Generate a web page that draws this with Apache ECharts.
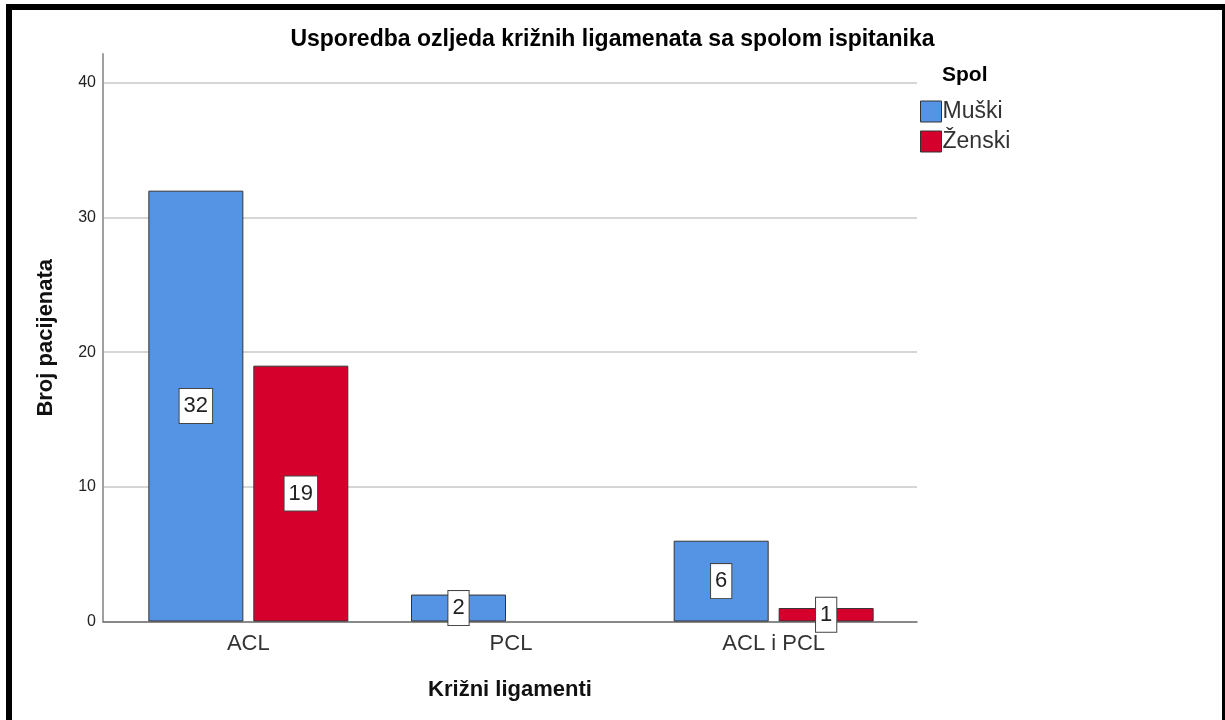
<!DOCTYPE html>
<html>
<head>
<meta charset="utf-8">
<script src="https://cdn.jsdelivr.net/npm/echarts@6/dist/echarts.min.js"></script>
<style>
html,body{margin:0;padding:0;background:#fff;}
#chart{width:1225px;height:720px;}
</style>
</head>
<body>
<div id="chart"></div>
<script>
const categories = ['ACL', 'PCL', 'ACL i PCL'];
const seriesNames = ['Muški', 'Ženski'];
const muski = [32, 2, 6];
const zenski = [19, 0, 1];
const yTicks = [0, 10, 20, 30, 40];

const FONT = "'Liberation Sans', Arial, sans-serif";
const chart = echarts.init(document.getElementById('chart'), null, {renderer: 'canvas'});

const yMax = 42.15;
const labelStyle = {
  show: true,
  position: 'inside',
  formatter: '{c}',
  color: '#222',
  fontFamily: FONT,
  fontSize: 22,
  lineHeight: 22,
  backgroundColor: '#fff',
  borderColor: '#444',
  borderWidth: 1,
  padding: [6, 4, 6, 4]
};

function mkData(arr) {
  return arr.map(v => (v !== 0
    ? { value: v }
    : { value: v, label: { show: false }, itemStyle: { borderWidth: 0 } }));
}

chart.setOption({
  animation: false,
  backgroundColor: '#fff',
  textStyle: { fontFamily: FONT },
  title: [
    {
      text: 'Usporedba ozljeda križnih ligamenata sa spolom ispitanika',
      left: 'center', top: 28, padding: 0,
      textStyle: { fontFamily: FONT, fontSize: 23, fontWeight: 'bold', color: '#000' }
    },
    {
      text: 'Spol',
      left: 942, top: 65, padding: 0,
      textStyle: { fontFamily: FONT, fontSize: 21, fontWeight: 'bold', color: '#000' }
    }
  ],
  legend: {
    orient: 'vertical',
    left: 920, top: 100, padding: 0,
    itemWidth: 21, itemHeight: 21, itemGap: 7,
    icon: 'rect',
    data: seriesNames,
    itemStyle: { borderColor: '#333', borderWidth: 1 },
    textStyle: { fontFamily: FONT, fontSize: 23, color: '#333', padding: [0, 0, 0, -4] }
  },
  grid: [
    { left: 103, right: 308, top: 54, bottom: 98.5 },
    { left: 117, right: 320, top: 54, bottom: 98.5 }
  ],
  xAxis: [
    {
      gridIndex: 0, type: 'category', data: categories,
      axisLine: { show: true, lineStyle: { color: '#707070', width: 1.5 } },
      axisTick: { show: false }, axisLabel: { show: false },
      name: 'Križni ligamenti', nameLocation: 'middle', nameGap: 57,
      nameTextStyle: { fontFamily: FONT, fontSize: 22, fontWeight: 'bold', color: '#111' }
    },
    {
      gridIndex: 1, type: 'category', data: categories,
      axisLine: { show: false }, axisTick: { show: false },
      axisLabel: { fontFamily: FONT, fontSize: 22, color: '#333', margin: 11 }
    }
  ],
  yAxis: [
    {
      gridIndex: 0, type: 'value', min: 0, max: yMax, interval: 10,
      axisLine: { show: true, lineStyle: { color: '#a0a0a0', width: 2 } },
      axisTick: { show: false },
      axisLabel: {
        fontFamily: FONT, fontSize: 16, color: '#222', margin: 7,
        formatter: v => (yTicks.indexOf(v) >= 0 ? String(v) : '')
      },
      splitLine: { show: true, showMaxLine: false, lineStyle: { color: '#c8c8c8', width: 1.5 } },
      name: 'Broj pacijenata', nameLocation: 'middle', nameGap: 46,
      nameTextStyle: { fontFamily: FONT, fontSize: 22, fontWeight: 'bold', color: '#111' }
    },
    {
      gridIndex: 1, type: 'value', min: 0, max: yMax, interval: 10, show: false,
      splitLine: { show: false }
    }
  ],
  series: [
    {
      name: seriesNames[0], type: 'bar', xAxisIndex: 1, yAxisIndex: 1,
      data: mkData(muski), barWidth: 95, barGap: '10.5%',
      itemStyle: { color: '#5594e4', borderColor: '#333', borderWidth: 1 },
      label: labelStyle
    },
    {
      name: seriesNames[1], type: 'bar', xAxisIndex: 1, yAxisIndex: 1,
      data: mkData(zenski), barWidth: 95, barGap: '10.5%',
      itemStyle: { color: '#d6002d', borderColor: '#333', borderWidth: 1 },
      label: labelStyle
    }
  ],
  graphic: [
    {
      type: 'rect', silent: true, z: 100,
      shape: { x: 9, y: 7, width: 1216, height: 720 },
      style: { fill: 'none', stroke: '#000', lineWidth: 6 }
    }
  ]
});
</script>
</body>
</html>
